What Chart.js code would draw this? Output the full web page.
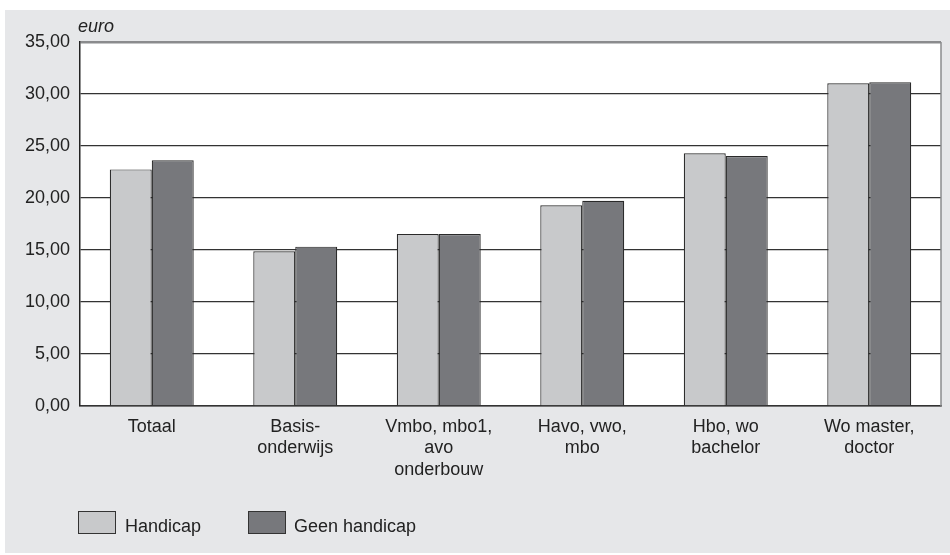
<!DOCTYPE html>
<html>
<head>
<meta charset="utf-8">
<script src="https://cdn.jsdelivr.net/npm/chart.js@4.4.0/dist/chart.umd.min.js"></script>
<style>
html,body{margin:0;padding:0;background:#fff;}
#wrap{width:950px;height:555px;position:relative;}
</style>
</head>
<body>
<div id="wrap"><canvas id="c" width="950" height="555"></canvas></div>
<script>
const categories = [["Totaal"], ["Basis-", "onderwijs"], ["Vmbo, mbo1,", "avo", "onderbouw"], ["Havo, vwo,", "mbo"], ["Hbo, wo", "bachelor"], ["Wo master,", "doctor"]];
const seriesNames = ["Handicap", "Geen handicap"];
const handicap = [22.75, 14.87, 16.54, 19.30, 24.30, 31.03];
const geenHandicap = [23.62, 15.32, 16.54, 19.74, 24.04, 31.12];
const seriesColors = ["#c8c9cb", "#77787c"];
const yTicks = [0, 5, 10, 15, 20, 25, 30, 35];
const unitLabel = "euro";

const FONT = "'Liberation Sans', Arial, Helvetica, sans-serif";

const bgPlugin = {
  id: 'bg',
  beforeDraw(chart) {
    const ctx = chart.ctx;
    const a = chart.chartArea;
    ctx.save();
    ctx.fillStyle = '#ffffff';
    ctx.fillRect(0, 0, chart.width, chart.height);
    ctx.fillStyle = '#e6e7e9';
    ctx.fillRect(5, 10, chart.width - 5, 543);
    ctx.fillStyle = '#ffffff';
    ctx.fillRect(a.left, a.top, a.right - a.left, a.bottom - a.top);
    ctx.restore();
  },
  afterDraw(chart) {
    const ctx = chart.ctx;
    const a = chart.chartArea;
    ctx.save();
    ctx.strokeStyle = '#8a8b8d';
    ctx.lineWidth = 1.5;
    ctx.beginPath();
    ctx.moveTo(a.right, a.top);
    ctx.lineTo(a.right, a.bottom);
    ctx.stroke();
    ctx.fillStyle = '#222';
    ctx.font = 'italic 18px ' + FONT;
    ctx.textBaseline = 'middle';
    ctx.textAlign = 'left';
    ctx.fillText(unitLabel, 78, 27);
    const items = [{x: 78, tx: 125}, {x: 248, tx: 294}];
    items.forEach((it, i) => {
      ctx.fillStyle = seriesColors[i];
      ctx.fillRect(it.x, 511, 38, 23);
      ctx.strokeStyle = '#333';
      ctx.lineWidth = 1;
      ctx.strokeRect(it.x + 0.5, 511.5, 37, 22);
      ctx.fillStyle = '#222';
      ctx.font = '18px ' + FONT;
      ctx.fillText(seriesNames[i], it.tx, 527);
    });
    ctx.restore();
  }
};

new Chart(document.getElementById('c'), {
  type: 'bar',
  data: {
    labels: categories,
    datasets: [
      {label: seriesNames[0], data: handicap, backgroundColor: seriesColors[0], borderColor: '#2a2a2a', borderWidth: 1.2},
      {label: seriesNames[1], data: geenHandicap, backgroundColor: seriesColors[1], borderColor: '#2a2a2a', borderWidth: 1.2}
    ]
  },
  options: {
    responsive: false,
    animation: false,
    devicePixelRatio: 1,
    layout: {padding: {left: 5, right: 9, top: 42, bottom: 0}},
    datasets: {bar: {categoryPercentage: 0.585, barPercentage: 1}},
    plugins: {legend: {display: false}, tooltip: {enabled: false}, title: {display: false}},
    scales: {
      x: {
        grid: {display: false, drawTicks: false},
        border: {display: true, color: '#333', width: 1.5},
        ticks: {color: '#222', font: {family: FONT, size: 18, lineHeight: 1.2}, padding: 10, maxRotation: 0, autoSkip: false},
        afterFit(s) { s.height = 149; }
      },
      y: {
        min: 0, max: 35,
        afterBuildTicks(s) { s.ticks = yTicks.map(v => ({value: v})); },
        grid: {
          drawTicks: false,
          color: ctx => (ctx.tick && ctx.tick.value === 35) ? '#8a8b8d' : '#333',
          lineWidth: ctx => (ctx.tick && ctx.tick.value === 35) ? 2.5 : 1.3
        },
        border: {display: true, color: '#222', width: 1.5},
        ticks: {
          color: '#222', font: {family: FONT, size: 18}, padding: 10,
          callback: v => v.toFixed(2).replace('.', ',')
        },
        afterFit(s) { s.width = 75; }
      }
    }
  },
  plugins: [bgPlugin]
});
</script>
</body>
</html>
